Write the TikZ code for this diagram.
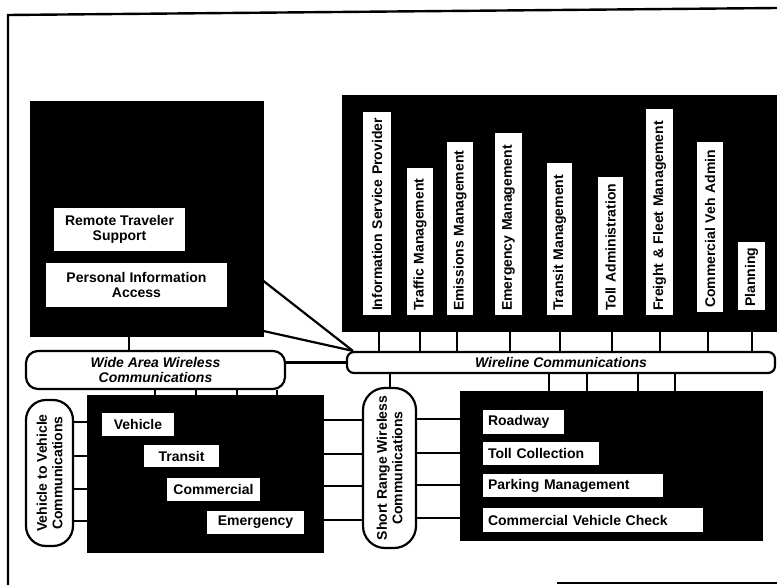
\documentclass[tikz,border=0pt]{standalone}
\usepackage{fontspec}
\setmainfont{Liberation Sans}
\usetikzlibrary{calc}
\begin{document}
\begin{tikzpicture}[x=1pt,y=-1pt,
  every node/.style={font=\fontsize{14}{15.5}\selectfont\bfseries},
  blk/.style={fill=black, draw=black, line width=1pt, inner sep=0pt},
  wbox/.style={fill=white, inner sep=0pt, align=center},
  lbox/.style={fill=white, inner sep=0pt, align=left},
  vbox/.style={fill=white, inner sep=0pt, rotate=90, align=left},
  bar/.style={draw=black, fill=white, line width=2.2pt, inner sep=0pt, align=center},
  link/.style={draw=black, line width=2.2pt},
  frame/.style={draw=black, line width=2.4pt}
]
\useasboundingbox (0,0) rectangle (777,585);

% outer frame
\draw[frame] (8,585) -- (8,15) -- (777,8);
\draw[frame] (557,583) -- (777,583);

% black system blocks
\node[blk, minimum width=233, minimum height=235] (trav) at (146.5,219.5) {};
\node[blk, minimum width=435, minimum height=236] (ctr)  at (559.5,214) {};
\node[blk, minimum width=236, minimum height=156] (veh)  at (205,474) {};
\node[blk, minimum width=302, minimum height=148] (road) at (611,466) {};

% traveler subsystems
\node[wbox, minimum width=131, minimum height=43] (rts) at (119.5,229.5) {Remote Traveler\\Support};
\node[wbox, minimum width=181, minimum height=44] (pia) at (136.5,285) {Personal Information\\Access};

% center subsystems
\node[vbox, minimum width=203, minimum height=28, text width=195] (isp)  at (377,213.5) {Information Service Provider};
\node[vbox, minimum width=147, minimum height=26, text width=139] (tm)   at (420,241.5) {Traffic Management};
\node[vbox, minimum width=173, minimum height=26, text width=165] (em)   at (460,228.5) {Emissions Management};
\node[vbox, minimum width=182, minimum height=27, text width=174] (emm)  at (508.5,224) {Emergency Management};
\node[vbox, minimum width=152, minimum height=25, text width=144] (trm)  at (559.5,239) {Transit Management};
\node[vbox, minimum width=138, minimum height=25, text width=130] (ta)   at (610.5,246) {Toll Administration};
\node[vbox, minimum width=206, minimum height=27, text width=198] (ffm)  at (659.5,212) {Freight \& Fleet Management};
\node[vbox, minimum width=170, minimum height=26, text width=162] (cva)  at (710,227) {Commercial Veh Admin};
\node[vbox, minimum width=68,  minimum height=27, text width=62]  (plan) at (751.5,276) {Planning};

% vehicle subsystems
\node[wbox, minimum width=72, minimum height=23] (vv) at (138,424.5) {Vehicle};
\node[wbox, minimum width=75, minimum height=22] (vt) at (181.5,456) {Transit};
\node[wbox, minimum width=93, minimum height=23] (vc) at (213.5,489.5) {Commercial};
\node[wbox, minimum width=97, minimum height=23] (ve) at (255.5,522.5) {Emergency};

% roadside subsystems
\node[lbox, minimum width=81,  minimum height=24, text width=71]  (rw) at (523.5,422) {Roadway};
\node[lbox, minimum width=116, minimum height=23, text width=106] (tc) at (541,453.5) {Toll Collection};
\node[lbox, minimum width=180, minimum height=23, text width=170] (pm) at (573,485.5) {Parking Management};
\node[lbox, minimum width=220, minimum height=24, text width=210] (cv) at (593,520) {Commercial Vehicle Check};

% communication links
\node[bar, rounded corners=12pt, minimum width=259, minimum height=38] (wide) at (155.5,370)
  {\itshape Wide Area Wireless\\\itshape Communications};
\node[bar, rounded corners=7pt, minimum width=428, minimum height=21] (wire) at (561,362.5)
  {\itshape Wireline Communications};
\node[bar, rounded corners=20pt, minimum width=146, minimum height=47, rotate=90] (v2v) at (49.5,473)
  {Vehicle to Vehicle\\Communications};
\node[bar, rounded corners=22pt, minimum width=160, minimum height=53, rotate=90] (srw) at (389.5,468)
  {Short Range Wireless\\Communications};

% connectors
\coordinate (wj) at ($(wire.north west)+(7,0)$);
\draw[link] (trav.east |- 0,281) -- (wj);
\draw[link] (trav.east |- 0,331) -- (wj);
\draw[link] (wide.east |- wire.west) -- (wire.west);
\draw[link] (trav.south -| 129,0) -- (wide.north -| 129,0);

\foreach \x in {379,420,457,510,560,612,660,708,752}
  \draw[link] (ctr.south -| \x,0) -- (wire.north -| \x,0);

\foreach \x in {155,196,237,277}
  \draw[link] (wide.south -| \x,0) -- (veh.north -| \x,0);

\draw[link] (wire.south -| 390,0) -- (srw.east -| 390,0);
\foreach \x in {549,587,638,675}
  \draw[link] (wire.south -| \x,0) -- (road.north -| \x,0);

\foreach \y in {422,456,489,521}
  \draw[link] (v2v.south |- 0,\y) -- (veh.west |- 0,\y);
\foreach \y in {420,454,486,520}
  \draw[link] (veh.east |- 0,\y) -- (srw.north |- 0,\y);
\foreach \y in {419,453,485,518}
  \draw[link] (srw.south |- 0,\y) -- (road.west |- 0,\y);

\end{tikzpicture}
\end{document}
